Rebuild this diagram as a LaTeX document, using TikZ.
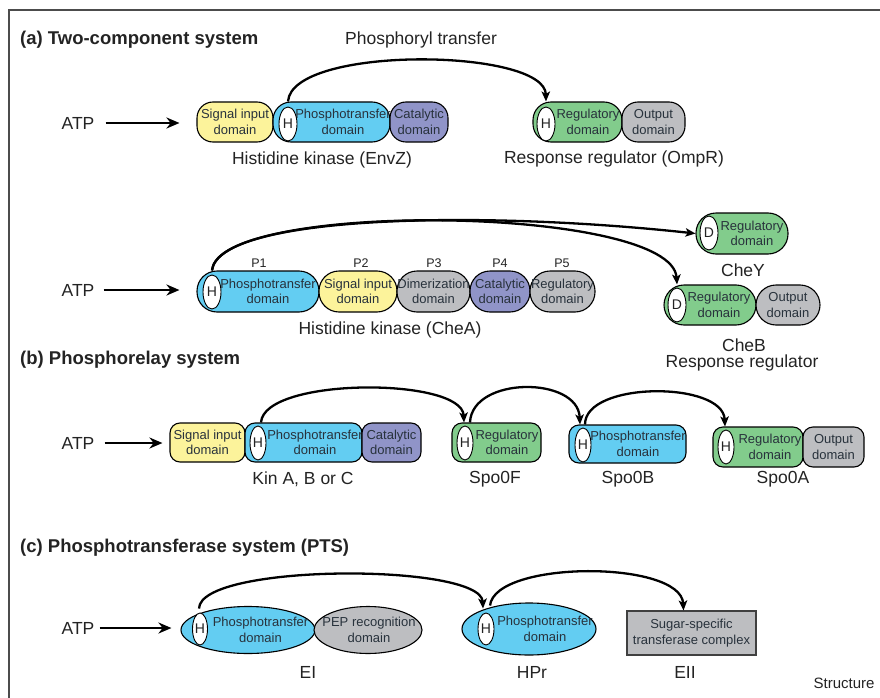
\documentclass[tikz,border=0pt]{standalone}
\usepackage{fontspec}
\setmainfont{Liberation Sans}
\usetikzlibrary{arrows.meta,shapes.geometric,calc}
\definecolor{cyel}{RGB}{252,243,155}
\definecolor{cblue}{RGB}{99,205,242}
\definecolor{cpurp}{RGB}{144,148,200}
\definecolor{cgreen}{RGB}{130,204,140}
\definecolor{cgray}{RGB}{189,190,193}
\definecolor{dtxt}{RGB}{40,50,60}
\definecolor{ltxt}{RGB}{35,35,35}
\newcommand\mkdom[8]{%
  \node[#2, minimum width=#5pt, minimum height=#6pt] (#1) at (#3,#4) {};
  \node[dtext] (#1-t) at ([xshift=#8pt]#1.center) {#7};
}
\begin{document}
\begin{tikzpicture}[x=1pt,y=-1pt,
  dom/.style={draw=black, line width=1.1pt, inner sep=0pt, rectangle},
  dtext/.style={align=center, inner sep=0pt, text=dtxt, font=\fontsize{13}{15.5}\selectfont},
  hel/.style={ellipse, draw=black, fill=white, line width=0.9pt, inner sep=0pt,
    minimum width=18pt, minimum height=34pt, text=ltxt, font=\fontsize{14}{14}\selectfont},
  lbl/.style={inner sep=0pt, text=ltxt, font=\fontsize{17.5}{20}\selectfont, align=center},
  plbl/.style={inner sep=0pt, text=ltxt, font=\fontsize{12.5}{14}\selectfont},
  ttl/.style={inner sep=0pt, anchor=west, text=ltxt, font=\fontsize{18.5}{20}\selectfont\bfseries},
  atpa/.style={line width=2.4pt, -{Stealth[length=13pt,width=11pt]}},
  carrow/.style={line width=2.3pt, -{Stealth[length=10pt,width=8.5pt,inset=2.5pt]}},
  pel/.style={ellipse, draw=black, line width=1.1pt, inner sep=0pt}
]
\path[use as bounding box] (0,0) rectangle (880,698);
\draw[line width=1.2pt, black!70] (9,698) -- (9,10) -- (880,10);

% ---------- (a) ----------
\node[ttl] (ta) at (20,40) {(a) Two-component system};
\node[lbl] (phtr) at (421,40) {Phosphoryl transfer};
\node[lbl] (atp1) at (78,123) {ATP};
\mkdom{sig1}{dom,fill=cyel,rounded corners=16pt}{235}{122}{76}{40}{Signal input\\domain}{0}
\mkdom{pt1}{dom,fill=cblue,rounded corners=18pt}{331.5}{122}{117}{40}{Phosphotransfer\\domain}{11.5}
\mkdom{cat1}{dom,fill=cpurp,rounded corners=16pt}{419}{122}{58}{40}{Catalytic\\domain}{0}
\node[hel] (h1) at (288,124) {H};
\node[lbl] (envz) at (322,160) {Histidine kinase (EnvZ)};
\mkdom{rr1}{dom,fill=cgreen,rounded corners=18pt}{577.5}{122}{89}{40}{Regulatory\\domain}{10.5}
\mkdom{out1}{dom,fill=cgray,rounded corners=16pt}{653.5}{122}{63}{40}{Output\\domain}{0}
\node[hel] (h2) at (546,124) {H};
\node[lbl] (ompr) at (614,159) {Response regulator (OmpR)};
\draw[atpa,shorten <=11pt,shorten >=17pt] (atp1.east) -- (sig1.west |- atp1.east);
\draw[carrow] (h1 |- pt1.north) .. controls (292,45) and (545,48) .. (h2 |- rr1.north);

% ---------- CheA ----------
\node[lbl] (atp2) at (78,290) {ATP};
\mkdom{p1}{dom,fill=cblue,rounded corners=20pt}{258}{291.5}{122}{41}{Phosphotransfer\\domain}{10}
\mkdom{p2}{dom,fill=cyel,rounded corners=20pt}{358}{291.5}{78}{41}{Signal input\\domain}{0}
\mkdom{p3}{dom,fill=cgray,rounded corners=20pt}{433.5}{291.5}{73}{41}{Dimerization\\domain}{0}
\mkdom{p4}{dom,fill=cpurp,rounded corners=20pt}{500}{291.5}{60}{41}{Catalytic\\domain}{0}
\mkdom{p5}{dom,fill=cgray,rounded corners=20pt}{562.5}{291.5}{65}{41}{Regulatory\\domain}{0}
\node[hel] (h3) at (212,292) {H};
\node[plbl] (l1) at (259,263) {P1};
\node[plbl] (l2) at (361,263) {P2};
\node[plbl] (l3) at (434,263) {P3};
\node[plbl] (l4) at (500,263) {P4};
\node[plbl] (l5) at (562,263) {P5};
\node[lbl] (chea) at (390,330) {Histidine kinase (CheA)};
\mkdom{chey}{dom,fill=cgreen,rounded corners=20pt}{742}{233.5}{92}{41}{Regulatory\\domain}{10}
\node[hel] (d1) at (709,233) {D};
\node[lbl] (cheyl) at (743,270) {CheY};
\mkdom{cheb}{dom,fill=cgreen,rounded corners=20pt}{710}{305}{92}{40}{Regulatory\\domain}{9}
\mkdom{out2}{dom,fill=cgray,rounded corners=20pt}{788}{305}{64}{40}{Output\\domain}{0}
\node[hel] (d2) at (677,305) {D};
\node[lbl] (chebl) at (744,345) {CheB};
\node[lbl] (rrl) at (742,363) {Response regulator};
\draw[atpa,shorten <=9pt,shorten >=17pt] (atp2.east) -- (p1.west |- atp2.east);
\draw[carrow] (h3 |- p1.north) .. controls (218,215) and (480,210) .. (chey.west);
\draw[carrow] (h3 |- p1.north) .. controls (218,200) and (672,205) .. (d2 |- cheb.north);

% ---------- (b) ----------
\node[ttl] (tb) at (20,360) {(b) Phosphorelay system};
\node[lbl] (atp3) at (78,443) {ATP};
\mkdom{sig2}{dom,fill=cyel,rounded corners=10pt}{207.5}{442.5}{75}{39}{Signal input\\domain}{0}
\mkdom{pt2}{dom,fill=cblue,rounded corners=10pt}{303.5}{442.5}{117}{39}{Phosphotransfer\\domain}{11.5}
\mkdom{cat2}{dom,fill=cpurp,rounded corners=10pt}{391.5}{442.5}{59}{39}{Catalytic\\domain}{0}
\node[hel,minimum width=16pt] (h4) at (258,443) {H};
\node[lbl] (kin) at (303,479) {Kin A, B or C};
\mkdom{s0f}{dom,fill=cgreen,rounded corners=10pt}{496.5}{442.5}{89}{39}{Regulatory\\domain}{10.5}
\node[hel,minimum width=16pt] (h5) at (465,443) {H};
\node[lbl] (s0fl) at (495,479) {Spo0F};
\mkdom{s0b}{dom,fill=cblue,rounded corners=10pt}{627.5}{444}{117}{38}{Phosphotransfer\\domain}{10.5}
\node[hel,minimum width=16pt] (h6) at (583,445) {H};
\node[lbl] (s0bl) at (628,479) {Spo0B};
\mkdom{s0a}{dom,fill=cgreen,rounded corners=10pt}{758}{447}{90}{40}{Regulatory\\domain}{12}
\mkdom{out3}{dom,fill=cgray,rounded corners=10pt}{833.5}{447}{61}{40}{Output\\domain}{0}
\node[hel,minimum width=16pt] (h7) at (726,447) {H};
\node[lbl] (s0al) at (783,479) {Spo0A};
\draw[atpa,shorten <=10pt,shorten >=7pt] (atp3.east) -- (sig2.west |- atp3.east);
\draw[carrow] ($(h4 |- pt2.north)+(3,0)$) .. controls (264,377) and (462,377) .. ($(h5 |- s0f.north)+(-1,0)$);
\draw[carrow] ($(h5 |- s0f.north)+(5,0)$) .. controls (472,376) and (578,376) .. ($(h6 |- s0b.north)+(-3,0)$);
\draw[carrow] ($(h6 |- s0b.north)+(2,0)$) .. controls (585,381) and (723,381) .. ($(h7 |- s0a.north)+(-1,0)$);

% ---------- (c) ----------
\node[ttl] (tc) at (20,548) {(c) Phosphotransferase system (PTS)};
\node[lbl] (atp4) at (78,628) {ATP};
\node[pel,fill=cblue,minimum width=134pt,minimum height=47pt] (ei) at (248,630) {};
\node[pel,fill=cgray,minimum width=108pt,minimum height=47pt] (pep) at (368,630) {};
\node[dtext] (ei-t) at (260.5,630) {Phosphotransfer\\domain};
\node[dtext] (pep-t) at (369,630) {PEP recognition\\domain};
\node[hel,minimum width=15pt,minimum height=32pt] (h8) at (200,629) {H};
\node[lbl] (eil) at (308,672) {EI};
\node[pel,fill=cblue,minimum width=134pt,minimum height=52pt] (hpr) at (529,629) {};
\node[dtext] (hpr-t) at (545,629) {Phosphotransfer\\domain};
\node[hel,minimum width=16pt,minimum height=32pt] (h9) at (486,629) {H};
\node[lbl] (hprl) at (532,672) {HPr};
\node[draw=black!75, line width=1.1pt, fill=cgray, minimum width=129pt, minimum height=44pt, inner sep=0pt] (eii) at (691.5,633) {};
\node[dtext] (eii-t) at (691.5,633) {Sugar-specific\\transferase complex};
\node[lbl] (eiil) at (685,672) {EII};
\node[inner sep=0pt, text=ltxt, font=\fontsize{15}{16}\selectfont] (strl) at (844,683) {Structure};
\draw[atpa,shorten <=5pt,shorten >=9pt] (atp4.east) -- (ei.west |- atp4.east);
\draw[carrow] ($(h8.north)+(-1,-4)$) .. controls (200,563) and (481,563) .. ($(h9.north)+(-3,-4)$);
\draw[carrow] ($(h9.north)+(4,-7)$) .. controls (495,560) and (681,560) .. ($(eii.north)+(-8,0)$);
\end{tikzpicture}
\end{document}
